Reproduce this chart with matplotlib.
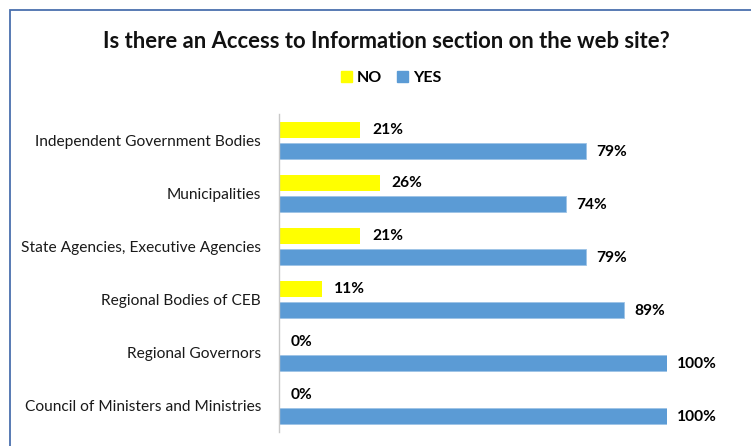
import matplotlib
matplotlib.use("Agg")
import matplotlib.pyplot as plt
from matplotlib.patches import Rectangle, Patch

plt.rcParams['font.family'] = ['Lato', 'DejaVu Sans']

categories = [
    "Independent Government Bodies",
    "Municipalities",
    "State Agencies, Executive Agencies",
    "Regional Bodies of CEB",
    "Regional Governors",
    "Council of Ministers and Ministries",
]
no_values = [21, 26, 21, 11, 0, 0]
yes_values = [79, 74, 79, 89, 100, 100]
series_names = ["NO", "YES"]
title = "Is there an Access to Information section on the web site?"

no_color = "#FFFF00"
yes_color = "#5B9BD5"

W, H = 751, 446
fig = plt.figure(figsize=(W / 100, H / 100), dpi=100)

# outer chart frame
fig.patches.append(Rectangle((9.5 / W, -0.05), 1.2, 1 - 10 / H + 0.05,
                             transform=fig.transFigure, fill=False,
                             edgecolor="#4A6FAE", linewidth=1.3))

ax = fig.add_axes([279 / W, 1 - 432 / H, (667 - 279) / W, (432 - 114) / H])

y = list(range(len(categories)))
bar_h = 0.30
off = 0.19
ax.barh([v - off for v in y], no_values, height=bar_h, color=no_color)
ax.barh([v + off for v in y], yes_values, height=bar_h, color=yes_color,
        edgecolor="#9DC3E6", linewidth=0.6)

ax.set_xlim(0, 100)
ax.set_ylim(len(categories) - 0.5, -0.5)
ax.set_yticks(y)
ax.set_yticklabels(categories, fontsize=11.2, color="#1a1a1a")
ax.tick_params(axis="y", length=0, pad=13)
ax.set_xticks([])
for s in ["top", "right", "bottom"]:
    ax.spines[s].set_visible(False)
ax.spines["left"].set_color("#C8C8C8")
ax.spines["left"].set_linewidth(1.0)

for i, (n, yv) in enumerate(zip(no_values, yes_values)):
    ax.annotate(f"{n}%", (n, i - off), xytext=(8.5, 0), textcoords="offset points",
                va="center", ha="left", fontsize=11.2, fontweight="bold",
                annotation_clip=False)
    ax.annotate(f"{yv}%", (yv, i + off), xytext=(7.5, -1), textcoords="offset points",
                va="center", ha="left", fontsize=11.2, fontweight="bold",
                annotation_clip=False)

fig.text(386 / W, 1 - 42 / H, title, ha="center", va="center",
         fontsize=15.8, fontweight="bold", color="#111111")

handles = [Patch(color=no_color), Patch(color=yes_color)]
fig.legend(handles, series_names, loc="center", ncol=2,
           bbox_to_anchor=(391 / W, 1 - 78 / H), frameon=False,
           handlelength=0.7, handleheight=0.7, handletextpad=0.3,
           columnspacing=0.9, prop={"weight": "bold", "size": 11.5})

fig.savefig("out.png", dpi=100)
